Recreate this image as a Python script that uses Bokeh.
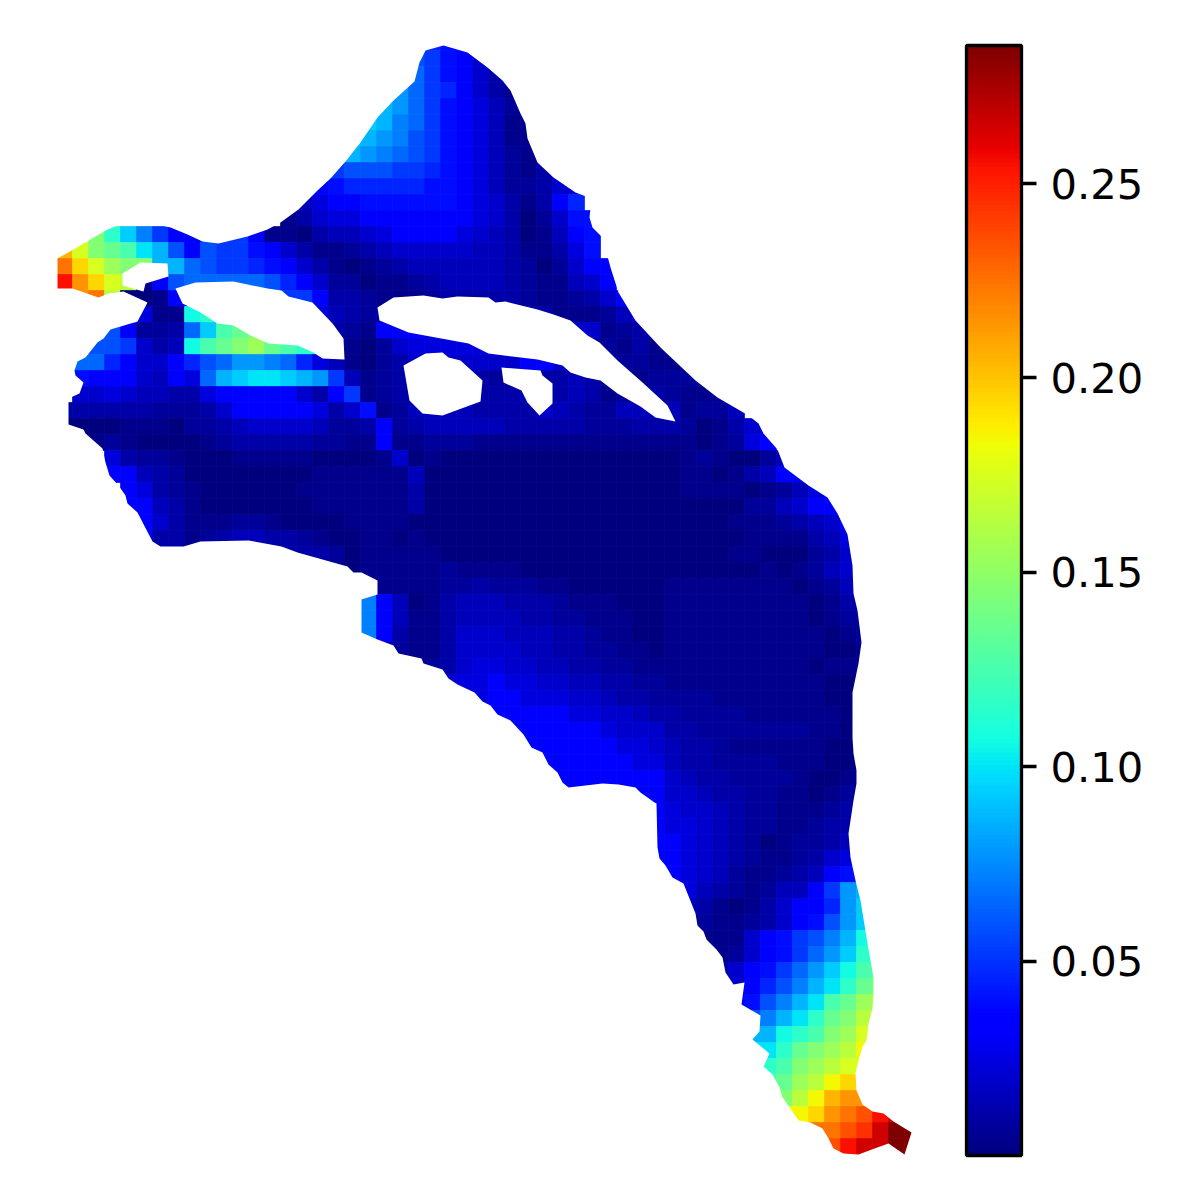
import numpy as np
from bokeh.embed import file_html
from bokeh.resources import INLINE
from bokeh.plotting import figure
from bokeh.models import ColorBar, ColumnDataSource, FixedTicker, LinearColorMapper, NumeralTickFormatter, Range1d

# value codes used in the table of cells
codes = "0123456789abcdefghijklmnopqrstuvwxyz"
code_values = [.001, .004, .007, .011, .015, .019, .024, .033, .040, .046, .052, .058, .065, .072, .079, .086, .093, .100,
               .107, .115, .125, .135, .145, .155, .165, .175, .185, .195, .205, .215, .225, .235, .245, .255, .265, .2855]

# (first column, values of successive columns) for each mesh row, top to bottom
mesh_rows = [
 (23,"988631"),(22,"ba87531"),(22,"ca875301"),(21,"eca975312"),(20,"feca876422"),(19,"gfdca8764113"),
 (18,"gfedba8764113"),(17,"gfedcba8764213"),(16,"aabbbaa987642135"),(15,"778999998876422355"),
 (14,"2467788888876531379"),(14,"13566777777765302588"),(2,"mjgda779aa7110344567777654301478"),
 (0,"spmlkhfb7baa8753112345555544311368"),(0,"urpnmmffcbaa98753101234444443202577"),
 (0,"xtrpo17bcccccb975220112344443211457"),(0,"xtuo0017799999aa73321112333332112357"),
 (5,"611ijkkk999643233333333333111246"),(3,"b7223cgklmnn99321777666555555551234"),
 (2,"bba534iklmnlkji4102566666666533121312"),(1,"cc975579bceedc964102355555557754332211112"),
 (1,"87775476cfghhgfea412344433233334322122222"),(1,"55654433677777537a12333333334434312332112"),
 (0,"3333332223577777635812444433335432244441224"),(0,"000011102234555542237234444433333222333201356"),
 (1,"11210000123333322117112221111111111111101267"),
 (3,"632210001111100001501000000000000000121002477"),
 (3,"77432000000001111114000000000000000011013477"),(4,"7632100000011111113000000000000000011110124677"),
 (4,"774310000000111111300000000000000000000224577"),(5,"753111221000011110000000000000000000011123457"),
 (5,"733123443321001101000000000000000000001111346"),(6,"5433344433320111110000000000000000001100023566"),
 (15,"331011111211110000000000000001012455"),(18,"111111223222110000001111111101245"),
 (19,"d740134443332111000111111111013 33".replace(" ","")),(19,"d74113444433221110011111111101222"),
 (19,"d73113555444332110011111111110122"),(20,"321135555443322110111111111100111"),
 (22,"1235665544332211111111111 0111".replace(" ","")),(23,"35667665544332211111111110000"),
 (25,"767766655433222211111110000"),(26,"77777766554332222111111000"),
 (27,"7777777655533222222211000"),(28,"777777766543321111110000"),
 (29,"77777776643322221110000"),(30,"77777777543322221001222"),
 (32,"77777755433221101222"),(36,"7765543221112333"),(37,"766543221123333"),(37,"776543201223444"),
 (37,"776543211235666"),(38,"76542112347889"),(39,"643212447aefg"),(39,"4310135779egh"),(39,"321123578begi"),
 (40,"111578abdfij"),(41,"12578acegjk"),(41,"3578acegikl"),(42,"579bdfhjlm"),(42,"78bdfhklno"),(43,"bdfhjlmop"),
 (43,"ffijkmnpq"),(43,"hhjlmnoq"),(43,"jjkmnopp"),(44,"klnoqrr"),(45,"moqstt"),(45,"qqrtuvxyz"),
 (47,"uuvwyzz"),(47,"vvxyyzz"),(48,"xyyzz"),
]
first_col_px, first_row_px, cell_px = 56, 34, 16

# boundary of the mesh
outline_x = [57,73,88,107,120,137,152,170,187,202,218,247,267,280,298,317,330,345,360,377,393,414,419,425,443,467,487,502,510,520,525,527,537,553,575,591,589,592,602,610,618,635,660,695,717,748,758,763,777,784,808,827,837,847,852,853,857,861,858,852,852,852,853,856,856,853,850,848,850,855,860,867,873,873,872,868,866,862,858,855,856,862,872,883,893,911,904,888,874,858,843,833,828,822,810,798,790,782,779,772,763,769,752,759,760,741,744,733,725,722,716,706,703,697,695,683,672,665,659,657,656,654,640,635,618,602,568,562,557,548,542,531,523,510,497,490,482,474,457,448,442,423,421,398,393,377,361,361,377,377,361,353,347,297,281,248,200,183,160,152,137,127,125,118,109,105,102,85,83,68,68,79,83,75,74,77,85,97,103,110,137,147,123,108,98,72,57]
outline_y = [258,249,240,229,224,222,223,227,234,241,243,236,229,222,209,190,178,161,142,117,100,81,62,50,45,52,67,80,90,113,123,138,162,177,192,198,217,227,237,267,292,320,347,380,397,415,423,433,449,467,485,497,513,534,565,593,610,642,663,692,700,737,753,770,783,800,820,833,857,880,900,943,977,995,1008,1023,1040,1046,1060,1073,1090,1104,1111,1113,1121,1132,1154,1143,1148,1154,1153,1148,1138,1128,1122,1120,1108,1097,1087,1074,1066,1053,1039,1031,1015,1004,982,984,972,957,949,939,931,925,913,883,877,865,858,847,803,802,792,787,784,783,787,782,772,764,752,747,734,720,714,705,701,692,684,678,669,663,658,653,645,639,632,599,594,580,572,572,566,552,546,540,541,546,546,541,512,503,495,485,475,462,448,433,429,424,398,393,382,375,370,361,357,342,338,329,321,302,291,293,297,288,288]
hole_xs = [
 [140,122,122,143,145,168,167],
 [175,195,233,267,281,288,312,332,343,344,322,313,297,268,250,233,217,200,182],
 [377,393,423,442,457,488,495,505,537,553,570,587,599,617,642,667,675,655,640,617,600,585,570,562,537,488,468,408,379],
 [403,425,442,448,460,482,480,442,422,409],
 [501,540,542,552,552,539,527,521,503],
]
hole_ys = [
 [262,273,285,291,283,276,263],
 [288,282,281,288,290,296,302,323,338,359,358,352,345,343,335,325,323,312,303],
 [307,297,295,298,296,297,302,301,309,314,320,335,342,360,382,405,421,417,406,393,380,377,372,365,359,353,343,332,320],
 [365,353,352,357,360,380,401,415,413,400],
 [367,370,375,383,403,415,402,390,382],
]
color_low, color_high = 0.0, 0.2855
color_ticks = [0.05, 0.10, 0.15, 0.20, 0.25]


def jet(n=256):
    t = np.linspace(0, 1, n)
    r = np.interp(t, [0, .35, .66, .89, 1], [0, 0, 1, 1, .5])
    g = np.interp(t, [0, .125, .375, .64, .91, 1], [0, 0, 1, 1, 0, 0])
    b = np.interp(t, [0, .11, .34, .65, 1], [.5, 1, 1, 0, 0])
    return ["#%02x%02x%02x" % (int(a * 255), int(c * 255), int(d * 255)) for a, c, d in zip(r, g, b)]


lookup = dict(zip(codes, code_values))
left, right, top, bottom, val = [], [], [], [], []
for i, (start, text) in enumerate(mesh_rows):
    for k, ch in enumerate(text):
        x0 = first_col_px + (start + k) * cell_px
        y0 = first_row_px + i * cell_px
        left.append(x0); right.append(x0 + cell_px)
        top.append(y0); bottom.append(y0 + cell_px)
        val.append(lookup[ch])

mapper = LinearColorMapper(palette=jet(), low=color_low, high=color_high)

p = figure(width=1184, height=1184, x_range=Range1d(0, 1184), y_range=Range1d(1184, 0),
           x_axis_location=None, y_axis_location=None, toolbar_location=None,
           output_backend="svg", min_border=0, outline_line_color=None)
p.grid.visible = False

p.quad(left="l", right="r", top="t", bottom="b",
       source=ColumnDataSource(dict(l=left, r=right, t=top, b=bottom, v=val)),
       fill_color={"field": "v", "transform": mapper},
       line_color={"field": "v", "transform": mapper}, line_width=0.7)

# white outside the boundary and in the holes
frame_x, frame_y = [0, 1184, 1184, 0], [0, 0, 1184, 1184]
p.multi_polygons(xs=[[[frame_x, outline_x]]], ys=[[[frame_y, outline_y]]], fill_color="white", line_color=None)
p.patches(hole_xs, hole_ys, fill_color="white", line_color=None)

bar = ColorBar(color_mapper=mapper, ticker=FixedTicker(ticks=color_ticks),
               formatter=NumeralTickFormatter(format="0.00"),
               width=55, height=1110, location=(966, 29), padding=0,
               bar_line_color="black", bar_line_width=3.3,
               major_tick_in=0, major_tick_out=15, major_tick_line_color="black", major_tick_line_width=3.3,
               minor_tick_line_color=None, label_standoff=14,
               major_label_text_font="DejaVu Sans", major_label_text_font_size="41.67px",
               major_label_text_color="black", border_line_color=None, background_fill_alpha=0)
p.add_layout(bar, "center")

open("out.html", "w").write(file_html(p, INLINE))
